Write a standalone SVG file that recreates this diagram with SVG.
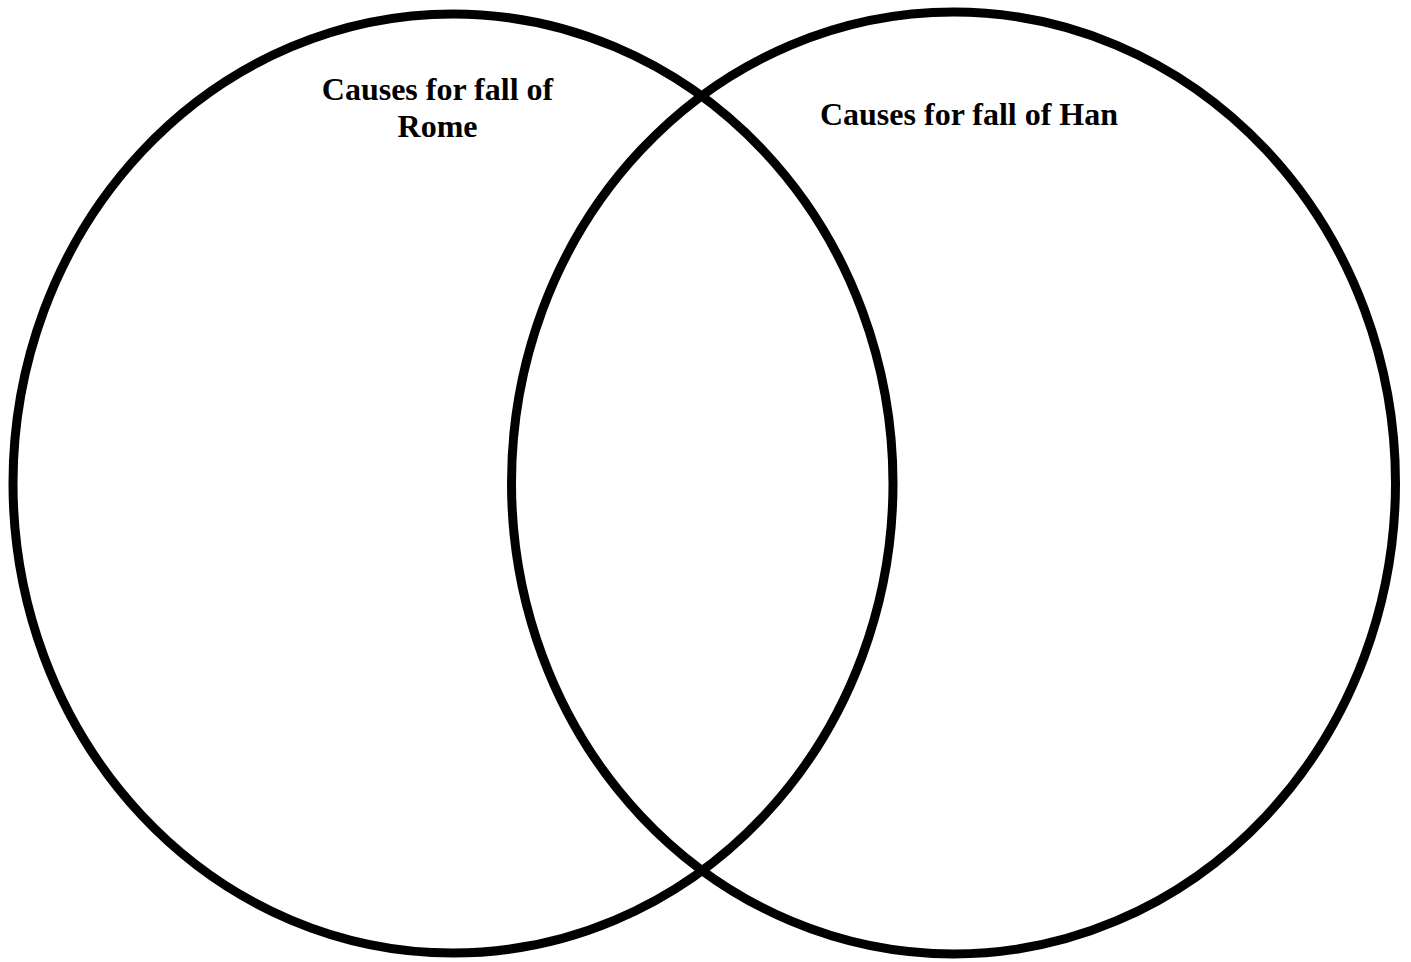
<svg xmlns="http://www.w3.org/2000/svg" width="1411" height="962" viewBox="0 0 1411 962">
<style>
.ring{fill:none;stroke:#000;stroke-width:9}
.lbl{font-family:"Liberation Serif","Times New Roman",serif;font-weight:bold;font-size:32px;fill:#000;text-anchor:middle}
</style>
<rect width="1411" height="962" fill="#fff"/>
<g id="rome">
<ellipse class="ring" cx="453" cy="483.5" rx="440" ry="469.5"/>
</g>
<g id="han">
<ellipse class="ring" cx="953.5" cy="483" rx="442" ry="471"/>
</g>
<g id="labels">
<rect x="268" y="62" width="300" height="80" fill="#fff"/>
<text class="lbl" x="437.5" y="100">Causes for fall of</text>
<text class="lbl" x="437.5" y="137">Rome</text>
<text class="lbl" x="969" y="125">Causes for fall of Han</text>
</g>
</svg>
